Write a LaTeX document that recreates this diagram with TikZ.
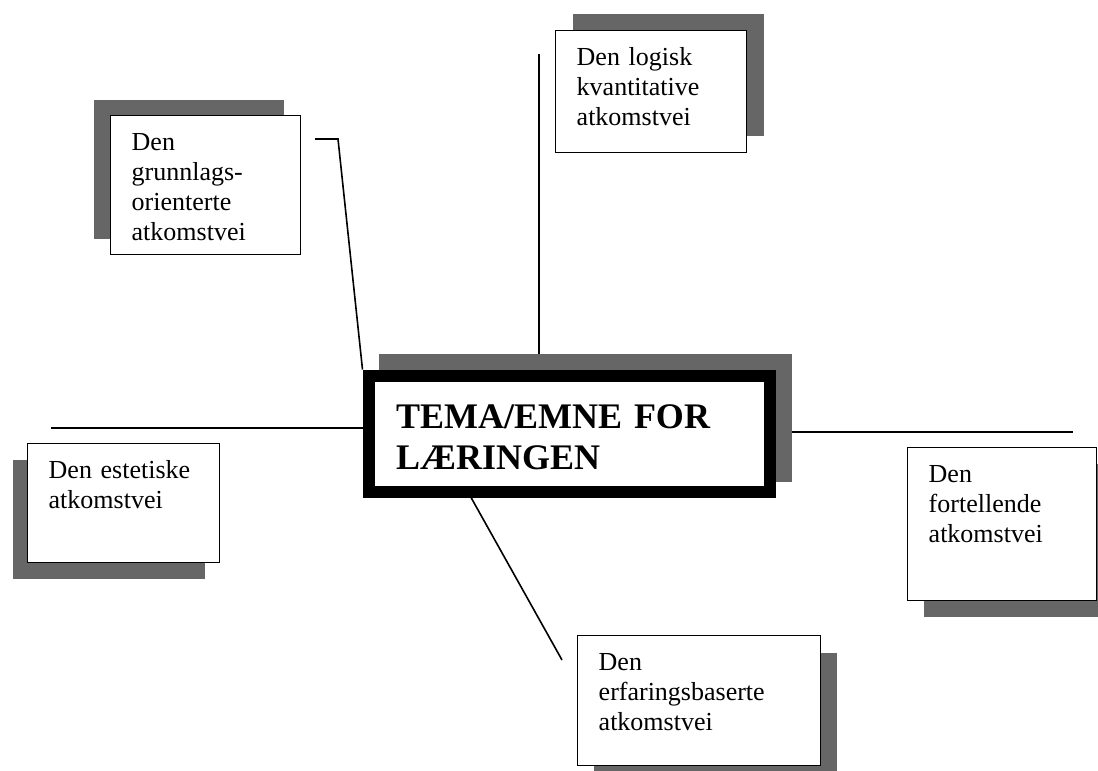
\documentclass[tikz,border=0pt]{standalone}
\usepackage{fontspec}
\setmainfont{Liberation Serif}
\usetikzlibrary{shadows}
\definecolor{shadowgray}{gray}{0.40}
\newcommand\cardfont{\fontsize{26}{30}\selectfont}
\newcommand\themefont{\fontsize{36}{41}\selectfont\bfseries}
\pgfdeclarelayer{background}
\pgfsetlayers{background,main}
\tikzset{
  card/.style={draw, line width=1.4pt, fill=white, align=left, anchor=north west,
    inner xsep=21pt, inner ysep=14pt, text height=21pt, font=\cardfont},
  cshadow/.style 2 args={general shadow={fill=shadowgray, shadow xshift=#1, shadow yshift=#2}},
  theme/.style={draw, line width=12pt, fill=white, align=left, anchor=north west,
    inner xsep=27.5pt, inner ysep=22.5pt, text height=30pt, text depth=41.5pt,
    text width=346pt, font=\themefont,
    general shadow={fill=shadowgray, draw=shadowgray, line width=12pt, shadow xshift=16pt, shadow yshift=16pt}},
  connector/.style={draw, line width=1.6pt}
}
\begin{document}
\begin{tikzpicture}[x=1pt, y=-1pt]
\useasboundingbox (0,0) rectangle (1098,771);

% central node
\node[theme] (c) at (362.5,369.5) {TEMA/EMNE FOR\\L\AE RINGEN};

% outer cards
\node[card, cshadow={-17pt}{16pt}, text width=148pt, text depth=90pt] (g) at (110,115)
  {Den\\grunnlags-\\orienterte\\atkomstvei};
\node[card, cshadow={17pt}{17pt}, text width=149pt, text depth=73pt] (l) at (555,30)
  {Den logisk\\kvantitative\\atkomstvei};
\node[card, cshadow={-15pt}{-16pt}, text width=150pt, text depth=70pt] (e) at (27,443)
  {Den estetiske\\atkomstvei};
\node[card, cshadow={16pt}{-16pt}, text width=147pt, text depth=104pt] (f) at (907,447)
  {Den\\fortellende\\atkomstvei};
\node[card, cshadow={16pt}{-17pt}, text width=201pt, text depth=81pt] (r) at (577,635)
  {Den\\erfaringsbaserte\\atkomstvei};

% free ends of connectors
\coordinate (g1) at (315,139);
\coordinate (g2) at (338,139);
\coordinate (l1) at (539,54);
\coordinate (e1) at (51,428);
\coordinate (f1) at (1073,432);
\coordinate (r0) at (464.6,486);
\coordinate (r1) at (562,660);

\begin{pgfonlayer}{background}
\draw[connector] (g1) -- (g2) -- (c.north west);
\draw[connector] (l1) -- (l1 |- c.north);
\draw[connector] (e1) -- (e1 -| c.west);
\draw[connector] (c.east |- f1) -- (f1);
\draw[connector] (r0) -- (r1);
\end{pgfonlayer}
\end{tikzpicture}
\end{document}
